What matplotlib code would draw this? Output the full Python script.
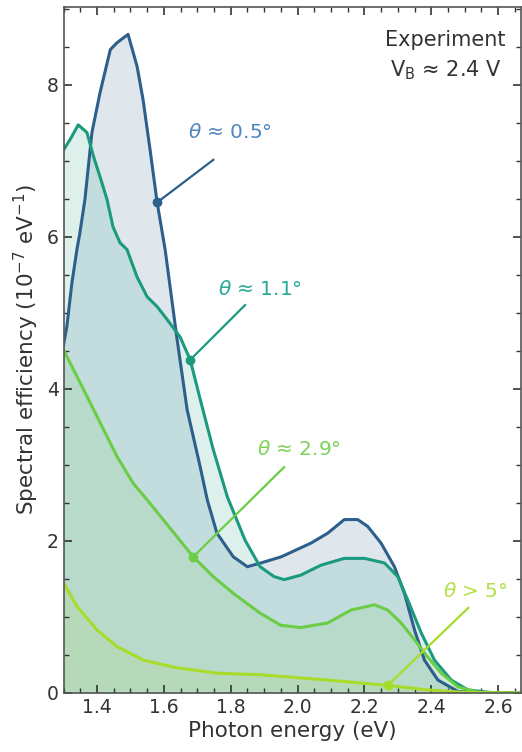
import matplotlib
matplotlib.use("Agg")
import matplotlib.pyplot as plt
import numpy as np
from matplotlib.ticker import MultipleLocator

plt.rcParams['font.family'] = ['DejaVu Sans']
plt.rcParams['mathtext.fontset'] = 'dejavusans'

# --- data (photon energy in eV, spectral efficiency in 1e-7 eV^-1) ---
x_05 = [1.30, 1.31, 1.325, 1.34, 1.349, 1.364, 1.385, 1.409, 1.44, 1.46, 1.493, 1.52, 1.538,
        1.559, 1.58, 1.604, 1.64, 1.67, 1.709, 1.73, 1.759, 1.808, 1.85, 1.891,
        1.951, 2.04, 2.09, 2.14, 2.18, 2.21, 2.25, 2.29, 2.32, 2.35, 2.38, 2.42, 2.48, 2.55, 2.67]
y_05 = [4.58, 4.82, 5.39, 5.83, 6.05, 6.49, 7.37, 7.89, 8.46, 8.55, 8.66, 8.24, 7.80,
        7.14, 6.45, 5.83, 4.64, 3.72, 2.97, 2.54, 2.10, 1.79, 1.66, 1.71,
        1.79, 1.97, 2.10, 2.28, 2.28, 2.19, 1.97, 1.66, 1.31, 0.83, 0.43, 0.17, 0.02, 0.0, 0.0]

x_11 = [1.30, 1.32, 1.344, 1.37, 1.39, 1.409, 1.43, 1.448, 1.469, 1.49, 1.52, 1.55, 1.58, 1.61,
        1.649, 1.679, 1.709, 1.748, 1.79, 1.843, 1.888, 1.93, 1.96, 2.01, 2.07, 2.14, 2.20,
        2.26, 2.30, 2.33, 2.37, 2.41, 2.46, 2.51, 2.59, 2.67]
y_11 = [7.14, 7.28, 7.47, 7.37, 7.05, 6.79, 6.49, 6.13, 5.92, 5.83, 5.47, 5.21, 5.08, 4.91,
        4.68, 4.38, 3.86, 3.20, 2.58, 2.01, 1.66, 1.53, 1.49, 1.55, 1.68, 1.77, 1.77,
        1.71, 1.53, 1.22, 0.79, 0.43, 0.17, 0.04, 0.0, 0.0]

x_29 = [1.30, 1.36, 1.41, 1.46, 1.508, 1.55, 1.598, 1.688, 1.748, 1.808, 1.888, 1.95, 2.01,
        2.09, 2.16, 2.23, 2.27, 2.31, 2.35, 2.39, 2.43, 2.48, 2.54, 2.67]
y_29 = [4.51, 3.99, 3.55, 3.11, 2.76, 2.54, 2.28, 1.79, 1.53, 1.31, 1.05, 0.89, 0.86,
        0.92, 1.09, 1.16, 1.09, 0.92, 0.70, 0.47, 0.26, 0.08, 0.01, 0.0]

x_5 = [1.30, 1.34, 1.40, 1.46, 1.54, 1.64, 1.76, 1.888, 2.09, 2.27, 2.39, 2.49, 2.60, 2.67]
y_5 = [1.45, 1.14, 0.83, 0.61, 0.43, 0.33, 0.26, 0.24, 0.17, 0.10, 0.04, 0.01, 0.0, 0.0]

labels = [r"$\theta$ ≈ 0.5°", r"$\theta$ ≈ 1.1°", r"$\theta$ ≈ 2.9°", r"$\theta$ > 5°"]
line_colors = ["#2d5f8c", "#1b9a7e", "#6acd45", "#a8dc2a"]
text_colors = ["#4f86bd", "#27a896", "#7dd35a", "#b2e04a"]
fill_alphas = [0.15, 0.14, 0.12, 0.10]
# annotation anchor points on curves and label positions (data coords)
anchor_x = [1.58, 1.679, 1.688, 2.27]
label_x = [1.673, 1.763, 1.88, 2.436]
label_y = [7.37, 5.30, 3.20, 1.33]
line_end = [(1.748, 7.01), (1.843, 5.10), (1.96, 2.97), (2.511, 1.12)]

fig = plt.figure(figsize=(5.22, 7.52), dpi=100)
ax = fig.add_axes([0.1217, 0.0785, 0.8773, 0.9122])

series = [(x_05, y_05), (x_11, y_11), (x_29, y_29), (x_5, y_5)]
for (xs, ys), c, a in zip(series, line_colors, fill_alphas):
    ax.fill_between(xs, ys, 0, color=c, alpha=a, linewidth=0)
for (xs, ys), c in zip(series, line_colors):
    ax.plot(xs, ys, color=c, lw=2.2, solid_joinstyle='round')

for (xs, ys), c, tc, ax_x, lx, ly, le, lab in zip(series, line_colors, text_colors,
                                                 anchor_x, label_x, label_y, line_end, labels):
    ay = np.interp(ax_x, xs, ys)
    ax.plot([ax_x, le[0]], [ay, le[1]], color=c, lw=1.6)
    ax.plot([ax_x], [ay], 'o', color=c, ms=6)
    ax.text(lx, ly, lab, color=tc, fontsize=14.5, ha='left', va='center')

ax.text(0.834, 0.952, "Experiment", transform=ax.transAxes, ha='center', va='center',
        fontsize=15, color='#333333')
ax.text(0.834, 0.908, r"V$_\mathregular{B}$ ≈ 2.4 V", transform=ax.transAxes, ha='center',
        va='center', fontsize=15, color='#333333')

ax.set_xlim(1.30, 2.67)
ax.set_ylim(0, 9.02)
ax.xaxis.set_major_locator(MultipleLocator(0.2))
ax.xaxis.set_minor_locator(MultipleLocator(0.05))
ax.yaxis.set_major_locator(MultipleLocator(2))
ax.yaxis.set_minor_locator(MultipleLocator(0.5))
ax.tick_params(which='both', direction='in', top=True, right=True, color='#333333',
               labelsize=13.5, labelcolor='#333333')
ax.tick_params(which='major', length=6, width=1.2)
ax.tick_params(which='minor', length=3.5, width=1.0)
for s in ax.spines.values():
    s.set_color('#555555')
    s.set_linewidth(1.2)

ax.set_xlabel("Photon energy (eV)", fontsize=15.5, color='#333333', labelpad=3)
ax.set_ylabel(r"Spectral efficiency (10$^{\mathregular{-7}}$ eV$^{\mathregular{-1}}$)",
              fontsize=15.5, color='#333333', labelpad=4)

fig.savefig("out.png", dpi=100)
